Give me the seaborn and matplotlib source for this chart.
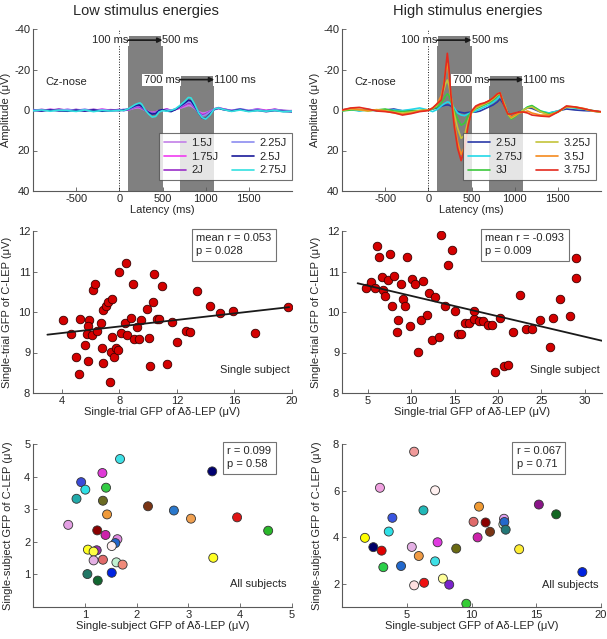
import numpy as np
import pandas as pd
import matplotlib
matplotlib.use('Agg')
import matplotlib.pyplot as plt
import seaborn as sns

# ---- ERP waveforms (Cz-nose) ----
latency = [-1000, -900, -800, -700, -600, -500, -400, -300, -200, -100,
           0, 50, 100, 150, 180, 200, 220, 240, 260, 300, 340, 380, 420, 460, 500,
           550, 600, 650, 700, 750, 800, 830, 870, 920, 960, 1000, 1050, 1100, 1150,
           1200, 1300, 1400, 1500, 1600, 1700, 1800, 1900, 2000]

low_labels = ['1.5J', '1.75J', '2J', '2.25J', '2.5J', '2.75J']
low_colors = ['#c27fe8', '#f03cf0', '#9a2fc8', '#8c8cf0', '#1a1a9a', '#33e0e0']
low_1_5 = [0.2, -0.3, 0.3, -0.2, 0.4, -0.3, 0.2, -0.4, 0.3, -0.2,
           0.2, -0.3, 0.1, -0.6, -0.9, -1.0, -1.1, -0.9, -0.6, 0.2, 0.8, 1.2, 0.9, 0.4, 0.2,
           -0.3, 0.1, -0.4, -0.8, -1.5, -2.2, -2.0, -0.8, 0.8, 1.5, 1.3, 0.5, -0.2, -0.6,
           -0.4, 0.3, -0.5, 0.4, -0.3, 0.3, -0.2, 0.4, 0.3]
low_1_75 = [0.0, 0.3, -0.4, 0.2, -0.3, 0.4, -0.2, 0.3, -0.5, 0.2,
            -0.3, 0.2, -0.2, -0.8, -1.2, -1.4, -1.5, -1.3, -0.9, 0.0, 0.9, 1.4, 1.1, 0.5, 0.0,
            -0.5, 0.2, -0.3, -1.0, -2.0, -3.2, -3.0, -1.2, 1.0, 2.2, 1.8, 0.6, -0.4, -1.0,
            -0.5, 0.2, -0.4, 0.3, -0.6, 0.2, -0.4, 0.5, 0.4]
low_2 = [0.3, -0.2, 0.2, -0.5, 0.2, -0.2, 0.5, -0.2, 0.2, 0.4,
         -0.2, 0.3, -0.1, -0.9, -1.4, -1.7, -1.8, -1.5, -1.0, 0.2, 1.0, 1.5, 1.2, 0.8, 0.1,
         -0.4, 0.4, -0.2, -1.2, -2.4, -3.5, -3.2, -1.2, 1.2, 2.5, 2.0, 0.7, -0.6, -1.1,
         -0.6, 0.4, -0.3, 0.5, -0.2, 0.4, -0.3, 0.2, 0.5]
low_2_25 = [-0.2, 0.4, -0.2, 0.3, -0.3, 0.2, -0.4, 0.4, -0.2, 0.3,
            0.0, -0.2, -0.3, -1.0, -1.6, -2.0, -2.2, -2.0, -1.4, 0.2, 1.0, 1.8, 1.5, 0.6, 0.3,
            -0.2, 0.3, -0.5, -1.5, -2.8, -4.0, -3.6, -1.5, 1.5, 3.0, 2.4, 0.9, -0.5, -1.2,
            -0.4, 0.2, -0.6, 0.2, -0.4, 0.6, -0.2, 0.3, 0.6]
low_2_5 = [0.2, 0.5, 0.0, 0.4, 0.6, 0.1, 0.5, 0.0, 0.6, 0.2,
           0.3, 0.0, -0.4, -1.4, -2.0, -2.3, -2.5, -2.3, -1.7, 0.0, 1.2, 2.0, 1.8, 0.2, -0.2,
           0.5, 0.8, -0.2, -1.8, -3.2, -4.8, -4.5, -2.0, 1.5, 4.0, 4.3, 2.0, -0.3, -0.9,
           -0.2, 0.5, -0.3, 0.6, 0.2, 0.8, 0.3, 0.7, 0.9]
low_2_75 = [0.4, 0.0, 0.6, 0.1, 0.3, 0.7, 0.0, 0.8, 0.2, 0.5,
            0.2, 0.3, -0.5, -1.8, -2.6, -3.0, -3.3, -3.5, -2.8, 0.0, 2.0, 3.5, 3.2, 1.0, 0.3,
            0.6, 0.2, -0.6, -2.2, -4.0, -6.2, -6.0, -3.0, 1.5, 3.8, 4.5, 2.5, -0.5, -1.0,
            -0.3, 0.7, 0.0, 0.8, 0.3, 0.6, 0.2, 0.9, 0.6]

high_labels = ['2.5J', '2.75J', '3J', '3.25J', '3.5J', '3.75J']
high_colors = ['#2a3aa8', '#22d8e8', '#3cc83c', '#c4c43a', '#f58a1e', '#e42a1e']
high_2_5 = [0.0, -0.5, 0.3, -0.3, 0.2, 0.0, -0.5, 0.4, 0.2, 0.5,
            0.0, -0.5, -1.0, -1.8, -2.2, -2.4, -2.5, -2.4, -2.0, -0.5, 0.8, 1.2, 1.5, 1.2, 1.0,
            1.0, 0.5, -0.5, -1.5, -2.5, -4.0, -5.5, -3.0, 1.0, 3.5, 2.5, 1.0, 0.0, -1.0,
            -0.8, 1.0, 1.5, 0.5, -0.5, 0.0, 0.3, 0.5, 1.0]
high_2_75 = [0.3, -0.2, 0.5, 0.0, 0.4, 0.6, 0.0, 0.3, -0.3, -1.0,
             0.0, 0.8, -0.2, -2.0, -3.0, -3.5, -4.0, -3.8, -3.0, -1.0, 1.5, 2.5, 2.8, 2.0, 1.2,
             0.5, -0.5, -1.5, -2.5, -3.8, -5.5, -7.0, -4.0, 1.5, 4.0, 3.0, 1.5, 0.0, -1.5,
             -2.0, 0.5, 1.5, 0.5, -1.5, -1.0, -0.5, 0.3, 1.0]
high_3 = [0.5, 0.0, -0.3, 0.3, 0.0, -0.5, 0.5, 0.8, 0.5, 0.2,
          0.0, -0.5, -1.5, -3.5, -5.5, -7.0, -8.0, -7.0, -4.5, 0.5, 4.5, 7.5, 6.5, 3.0, 1.0,
          -0.5, -1.5, -2.5, -3.5, -5.0, -7.0, -8.0, -4.0, 2.0, 4.5, 3.5, 1.5, 0.0, -1.5,
          -2.2, 0.5, 2.0, 1.0, -1.5, -1.2, -0.5, 0.3, 1.0]
high_3_25 = [0.2, -0.5, 0.0, 0.5, -0.2, 0.3, 1.0, 1.5, 1.0, 0.3,
             0.0, -0.8, -2.5, -6.0, -10.0, -13.0, -14.8, -12.0, -7.0, 2.0, 9.0, 14.0, 12.5, 5.5, 1.5,
             -1.0, -2.0, -3.0, -4.0, -5.5, -7.5, -8.2, -4.0, 2.0, 4.0, 3.0, 1.5, 0.0, -1.0,
             -1.5, 1.0, 2.5, 1.0, -1.5, -1.5, -0.5, 0.5, 1.0]
high_3_5 = [0.0, -0.8, -0.3, 0.3, 0.0, 0.5, 1.5, 2.0, 1.5, 0.5,
            0.0, -1.0, -3.0, -7.0, -13.0, -19.0, -23.0, -17.0, -8.0, 6.0, 16.0, 22.0, 18.0, 7.0, 1.0,
            -1.5, -2.5, -3.5, -4.5, -6.0, -8.0, -8.5, -4.0, 1.5, 3.5, 2.5, 1.5, 1.0, 0.5,
            1.5, 2.5, 2.5, 1.0, -1.8, -1.5, -0.8, 0.5, 1.0]
high_3_75 = [0.0, -1.0, -1.3, -0.5, 0.5, 0.8, 1.3, 2.5, 1.8, 0.8,
             0.3, -1.0, -3.0, -5.0, -12.0, -20.0, -28.0, -20.0, -8.0, 8.0, 19.0, 25.0, 19.0, 8.0, 0.5,
             -2.0, -3.0, -3.5, -4.5, -6.0, -8.0, -8.5, -3.0, 2.0, 2.0, 1.5, 1.0, 1.0, 1.5,
             2.5, 3.0, 3.3, 1.0, -2.0, -1.5, -0.6, 0.3, 0.8]

windows = [(100, 500), (700, 1100)]

# ---- single-subject single-trial GFP scatter ----
st_low_ad = [4.07, 4.67, 5.29, 4.99, 5.18, 5.64, 5.76, 5.87, 5.85, 5.85, 6.10, 6.15, 6.31, 6.47,
             6.73, 6.77, 6.84, 6.87, 7.10, 7.24, 7.47, 7.51, 7.40, 7.35, 7.65, 7.77, 7.93, 8.00,
             8.09, 8.42, 8.46, 8.55, 8.80, 8.97, 9.02, 9.20, 9.36, 9.48, 9.90, 10.03, 10.10,
             10.36, 10.43, 10.64, 10.75, 10.94, 11.65, 11.33, 12.02, 12.60, 12.90, 13.41, 14.29,
             15.01, 15.91, 17.46, 19.72]
st_low_c = [9.80, 9.45, 9.83, 8.88, 8.47, 9.18, 9.46, 9.80, 9.66, 8.80, 9.42, 10.55, 10.69, 9.54,
            9.73, 9.11, 8.73, 10.04, 10.16, 10.24, 10.31, 9.39, 9.02, 8.27, 8.89, 9.11, 9.06, 10.98,
            9.48, 9.72, 11.22, 9.42, 9.85, 10.70, 9.34, 9.63, 9.33, 9.81, 10.07, 9.36, 8.66,
            10.25, 10.94, 9.82, 9.83, 10.64, 9.76, 8.71, 9.25, 9.54, 9.51, 10.53, 10.15,
            9.98, 10.03, 9.48, 10.12]
st_low_fit_x = [3.0, 19.8]
st_low_fit_y = [9.44, 10.12]

st_high_ad = [4.73, 5.30, 5.80, 6.02, 6.29, 6.59, 6.78, 7.01, 7.27, 7.54, 7.80, 7.99, 8.30, 8.48,
              8.79, 9.02, 9.28, 9.55, 9.89, 10.11, 10.45, 10.80, 11.17, 11.40, 11.78, 12.08,
              12.39, 12.77, 13.14, 13.45, 13.94, 14.28, 14.66, 15.04, 15.38, 15.72, 16.21,
              16.63, 17.23, 17.27, 17.77, 18.26, 18.79, 19.32, 19.70, 20.27, 20.72, 21.14,
              21.78, 22.58, 23.18, 23.98, 24.89, 25.98, 26.30, 27.16, 28.33, 29.02, 29.02]
st_high_c = [10.60, 10.75, 10.60, 11.62, 11.36, 10.86, 10.55, 10.39, 10.80, 11.42, 10.16, 10.89,
             9.50, 9.81, 10.68, 10.33, 10.15, 11.37, 9.65, 10.81, 10.68, 9.02, 9.80, 10.77, 9.93,
             10.48, 9.30, 10.38, 9.38, 11.91, 10.16, 11.16, 11.52, 10.02, 9.45, 9.45, 9.72,
             9.72, 9.82, 10.03, 9.79, 9.77, 9.67, 9.67, 8.51, 9.84, 8.66, 8.70,
             9.50, 10.41, 9.59, 9.57, 9.80, 9.14, 9.85, 10.31, 9.90, 10.84, 11.33]
st_high_fit_x = [3.8, 32.0]
st_high_fit_y = [10.71, 9.29]

# ---- all subjects ----
ss_low_ad = [1.68, 1.34, 0.93, 1.01, 0.84, 1.41, 1.35, 1.43, 0.68, 1.24, 1.40, 1.63, 1.59, 1.52,
             1.06, 1.23, 1.17, 1.17, 1.35, 1.61, 1.73, 1.52, 1.05, 1.25, 2.22, 2.72, 3.05, 3.46,
             3.94, 4.54, 3.48]
ss_low_c = [4.54, 4.11, 3.83, 3.60, 3.32, 3.66, 3.26, 2.84, 2.52, 2.35, 2.21, 2.08, 1.96, 1.87,
            1.76, 1.74, 1.70, 1.43, 1.45, 1.37, 1.30, 1.05, 1.01, 0.81, 3.09, 2.96, 2.71, 4.16,
            2.75, 2.34, 1.51]
ss_low_col = ['#3ee0e6', '#e03ad8', '#3a4ad8', '#2ee0e6', '#22aaaa', '#33cc44', '#6a6a22',
              '#f09a3a', '#e4a0e4', '#8a0000', '#cc22aa', '#e08ae0', '#2266cc', '#fff0f0',
              '#ffff22', '#9a30b0', '#ffff44', '#e4b0e4', '#e06a6a', '#c0f0d0', '#f08a7a',
              '#0022e0', '#227766', '#126630', '#7a3414', '#2a78cc', '#f0a050', '#000070',
              '#e01414', '#2ab82a', '#ffff22']
ss_high_ad = [5.57, 2.93, 7.19, 6.29, 3.89, 3.61, 1.77, 2.42, 3.06, 3.19, 4.56, 5.39, 5.93, 7.38,
              7.19, 7.79, 5.57, 6.34, 8.28, 8.82, 9.60, 10.16, 10.58, 10.47, 11.09, 11.43, 12.46,
              12.51, 12.54, 12.64, 13.68, 15.20, 16.54, 18.56]
ss_high_c = [7.67, 6.12, 6.01, 5.15, 4.83, 4.24, 3.97, 3.57, 3.42, 2.71, 2.76, 3.58, 3.19, 3.78,
             2.96, 2.22, 1.93, 2.04, 1.96, 3.51, 1.14, 4.66, 5.31, 3.99, 4.63, 4.23, 4.55, 4.79,
             4.65, 4.32, 3.48, 5.40, 4.98, 2.50]
ss_high_col = ['#f09a9a', '#f0a0e0', '#fff0f0', '#22b8b8', '#3a55e0', '#2ee0e6', '#ffff00',
               '#000068', '#e00000', '#2ad048', '#2268cc', '#e4b0e4', '#f09a44', '#e03ae0',
               '#3ee0e6', '#ffff99', '#ffe0e0', '#ee1111', '#7a22cc', '#6a6a12', '#33cc33',
               '#e06a6a', '#f09a33', '#cc22aa', '#8a0000', '#7a3414', '#d0f0d0', '#e0a0f0',
               '#2268cc', '#227777', '#ffee33', '#8a1488', '#126622', '#0022e0']

sns.set_theme(style='white')
plt.rcParams['font.family'] = ['Liberation Sans', 'DejaVu Sans']
plt.rcParams.update({'font.size': 8, 'axes.labelsize': 8, 'axes.titlesize': 10.5,
                     'xtick.labelsize': 8, 'ytick.labelsize': 8, 'legend.fontsize': 8,
                     'axes.linewidth': 0.8, 'axes.unicode_minus': False})

fig = plt.figure(figsize=(6.07, 6.39), dpi=100)
W, H = 607.0, 639.0


def make_ax(x0, x1, y0, y1):
    return fig.add_axes([x0 / W, 1 - y1 / H, (x1 - x0) / W, (y1 - y0) / H])


def style(ax):
    sns.despine(ax=ax)
    for s in ['left', 'bottom']:
        ax.spines[s].set_color('0.35')
    ax.tick_params(direction='in', length=3, width=0.6, color='0.35', labelsize=8,
                   pad=2, left=True, bottom=True)


def erp_panel(ax, series, labels, colors, title, title_x, leg_x):
    for (lo, hi), top in zip(windows, [-36.5, -16.8]):
        ax.fill_between([lo, hi], [40, 40], [top, top], color='#808080', lw=0, zorder=0)
    ax.axvline(0, color='k', ls=':', lw=0.7, zorder=1)
    for vals, lab, col in zip(series, labels, colors):
        sns.lineplot(x=latency, y=vals, color=col, label=lab, lw=1.2, ax=ax, zorder=3)
    ax.set_xlim(-1000, 2000)
    ax.set_ylim(40, -40)
    ax.set_xticks([-500, 0, 500, 1000, 1500])
    ax.set_yticks([-40, -20, 0, 20, 40])
    ax.set_xlabel('Latency (ms)', labelpad=1)
    ax.set_ylabel('Amplitude (\u03bcV)', labelpad=2)
    ax.set_title(title, fontsize=10.5, pad=10, x=title_x)
    # window annotations
    for (lo, hi), yy in zip(windows, [-34.5, -15.0]):
        ax.text(lo, yy, f'{lo} ms', ha='right', va='center', fontsize=8, zorder=4,
                bbox=dict(facecolor='white', edgecolor='none', pad=0.8))
        ax.text(hi, yy, f'{hi} ms', ha='left', va='center', fontsize=8, zorder=4,
                bbox=dict(facecolor='white', edgecolor='none', pad=0.8))
        ax.annotate('', xy=(hi, yy), xytext=(lo, yy),
                    arrowprops=dict(arrowstyle='-|>', color='k', lw=1.2,
                                    mutation_scale=7, shrinkA=0, shrinkB=0), zorder=5)
    ax.text(-860, -14, 'Cz-nose', ha='left', va='center', fontsize=8)
    leg = ax.legend(ncol=2, loc='lower right', bbox_to_anchor=(leg_x, 0.065),
                    fontsize=8, frameon=True, fancybox=False, handlelength=2.0,
                    columnspacing=1.2, handletextpad=0.5, labelspacing=0.35,
                    borderpad=0.45, borderaxespad=0)
    leg.get_frame().set_edgecolor('0.3')
    leg.get_frame().set_linewidth(0.8)
    style(ax)


def stat_box(ax, txt, xr):
    ax.text(xr, 0.985, txt, transform=ax.transAxes, ha='right', va='top', fontsize=8,
            multialignment='left', linespacing=1.35,
            bbox=dict(facecolor='white', edgecolor='0.45', lw=0.8, boxstyle='square,pad=0.4'))


# top row
ax1 = make_ax(33, 292, 29, 191)
erp_panel(ax1, [low_1_5, low_1_75, low_2, low_2_25, low_2_5, low_2_75],
          low_labels, low_colors, 'Low stimulus energies', 0.435, 1.0)
ax2 = make_ax(342, 601, 29, 191)
erp_panel(ax2, [high_2_5, high_2_75, high_3, high_3_25, high_3_5, high_3_75],
          high_labels, high_colors, 'High stimulus energies', 0.487, 0.98)

# middle row
ax3 = make_ax(33, 292, 231, 393)
sns.scatterplot(x=st_low_ad, y=st_low_c, color='#d40000', edgecolor='#3a0000', linewidth=0.6,
                s=38, ax=ax3, zorder=3)
sns.lineplot(x=st_low_fit_x, y=st_low_fit_y, color='k', lw=1.3, ax=ax3, zorder=4)
ax3.set_xlim(2, 20)
ax3.set_ylim(8, 12)
ax3.set_xticks([4, 8, 12, 16, 20])
ax3.set_yticks([8, 9, 10, 11, 12])
ax3.set_xlabel('Single-trial GFP of A\u03b4-LEP (\u03bcV)', labelpad=1)
ax3.set_ylabel('Single-trial GFP of C-LEP (\u03bcV)', labelpad=4)
stat_box(ax3, 'mean r = 0.053\np = 0.028', 0.92)
ax3.text(0.99, 0.14, 'Single subject', transform=ax3.transAxes, ha='right', va='center')
style(ax3)

ax4 = make_ax(342, 602, 231, 393)
sns.scatterplot(x=st_high_ad, y=st_high_c, color='#d40000', edgecolor='#3a0000', linewidth=0.6,
                s=38, ax=ax4, zorder=3)
sns.lineplot(x=st_high_fit_x, y=st_high_fit_y, color='k', lw=1.3, ax=ax4, zorder=4)
ax4.set_xlim(2, 32)
ax4.set_ylim(8, 12)
ax4.set_xticks([5, 10, 15, 20, 25, 30])
ax4.set_yticks([8, 9, 10, 11, 12])
ax4.set_xlabel('Single-trial GFP of A\u03b4-LEP (\u03bcV)', labelpad=1)
ax4.set_ylabel('Single-trial GFP of C-LEP (\u03bcV)', labelpad=4)
stat_box(ax4, 'mean r = -0.093\np = 0.009', 0.855)
ax4.text(0.99, 0.14, 'Single subject', transform=ax4.transAxes, ha='right', va='center')
style(ax4)

# bottom row
ax5 = make_ax(33, 292, 444, 607)
sns.scatterplot(x=ss_low_ad, y=ss_low_c, hue=list(range(len(ss_low_ad))),
                palette=ss_low_col, edgecolor='#333333', linewidth=0.6, s=42,
                legend=False, ax=ax5, zorder=3)
ax5.set_xlim(0, 5)
ax5.set_ylim(0, 5)
ax5.set_xticks([1, 2, 3, 4, 5])
ax5.set_yticks([1, 2, 3, 4, 5])
ax5.set_xlabel('Single-subject GFP of A\u03b4-LEP (\u03bcV)', labelpad=1)
ax5.set_ylabel('Single-subject GFP of C-LEP (\u03bcV)', labelpad=8)
stat_box(ax5, 'r = 0.099\np = 0.58', 0.92)
ax5.text(0.98, 0.14, 'All subjects', transform=ax5.transAxes, ha='right', va='center')
style(ax5)

ax6 = make_ax(342, 601, 444, 607)
sns.scatterplot(x=ss_high_ad, y=ss_high_c, hue=list(range(len(ss_high_ad))),
                palette=ss_high_col, edgecolor='#333333', linewidth=0.6, s=42,
                legend=False, ax=ax6, zorder=3)
ax6.set_xlim(0, 20)
ax6.set_ylim(1, 8)
ax6.set_xticks([5, 10, 15, 20])
ax6.set_yticks([2, 4, 6, 8])
ax6.set_xlabel('Single-subject GFP of A\u03b4-LEP (\u03bcV)', labelpad=1)
ax6.set_ylabel('Single-subject GFP of C-LEP (\u03bcV)', labelpad=8)
stat_box(ax6, 'r = 0.067\np = 0.71', 0.845)
ax6.text(0.99, 0.135, 'All subjects', transform=ax6.transAxes, ha='right', va='center')
style(ax6)

fig.savefig('out.png', dpi=100)
